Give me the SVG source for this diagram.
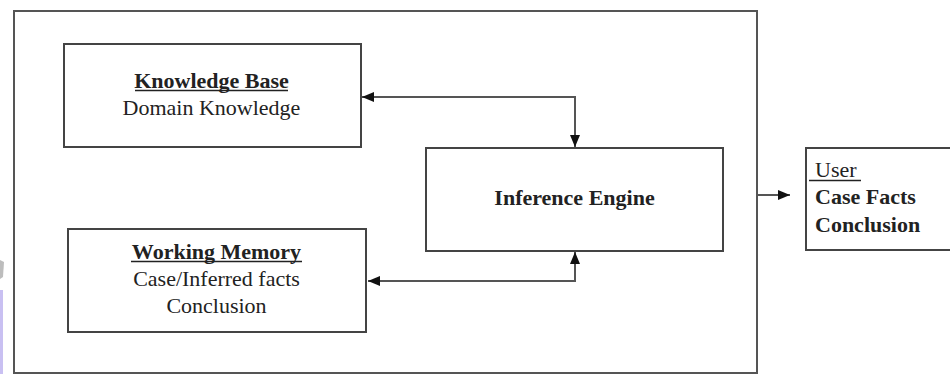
<svg xmlns="http://www.w3.org/2000/svg" width="950" height="374" viewBox="0 0 950 374">
<style>
.box{fill:#fff;stroke:#444;stroke-width:2}
.outer{fill:#fff;stroke:#555;stroke-width:2}
.t{font-family:"Liberation Serif","Times New Roman",serif;font-size:22px;fill:#222}
.b{font-weight:bold}
.ul{stroke:#222;stroke-width:1.5}
.con{fill:none;stroke:#555;stroke-width:2}
</style>
<defs>
<marker id="ah" viewBox="0 0 12 10" refX="12" refY="5" markerWidth="12" markerHeight="10" markerUnits="userSpaceOnUse" orient="auto-start-reverse">
<path d="M0,0 L12,5 L0,10 Z" fill="#111"/>
</marker>
</defs>
<rect width="950" height="374" fill="#fff"/>
<polygon points="0,260 4,262 3,277 0,279" fill="#bdbdbd"/>
<rect x="0" y="290" width="3" height="84" fill="#c9c0f2"/>
<g id="system">
<rect class="outer" x="14" y="11" width="743" height="362"/>
</g>
<g id="knowledge-base">
<rect class="box" x="64" y="44" width="297" height="103"/>
<text class="t b" x="211.5" y="88" text-anchor="middle">Knowledge Base</text>
<line class="ul" x1="135" y1="90.5" x2="288" y2="90.5"/>
<text class="t" x="211.5" y="115" text-anchor="middle">Domain Knowledge</text>
</g>
<g id="working-memory">
<rect class="box" x="68" y="229" width="298" height="103"/>
<text class="t b" x="216.5" y="259" text-anchor="middle">Working Memory</text>
<line class="ul" x1="131" y1="261.5" x2="302" y2="261.5"/>
<text class="t" x="216.5" y="286" text-anchor="middle">Case/Inferred facts</text>
<text class="t" x="216.5" y="313" text-anchor="middle">Conclusion</text>
</g>
<g id="inference-engine">
<rect class="box" x="426" y="148" width="297" height="103"/>
<text class="t b" x="574.5" y="205" text-anchor="middle">Inference Engine</text>
</g>
<g id="user">
<rect class="box" x="806" y="148" width="150" height="102"/>
<text class="t" x="815" y="177">User</text>
<line class="ul" x1="809" y1="180.5" x2="861" y2="180.5"/>
<text class="t b" x="815" y="204">Case Facts</text>
<text class="t b" x="815" y="232">Conclusion</text>
</g>
<g id="connectors">
<path class="con" d="M362,97 H575 V147" marker-start="url(#ah)" marker-end="url(#ah)"/>
<path class="con" d="M575,252 V281 H368" marker-start="url(#ah)" marker-end="url(#ah)"/>
<path class="con" d="M758,195 H790" marker-end="url(#ah)"/>
</g>
</svg>
